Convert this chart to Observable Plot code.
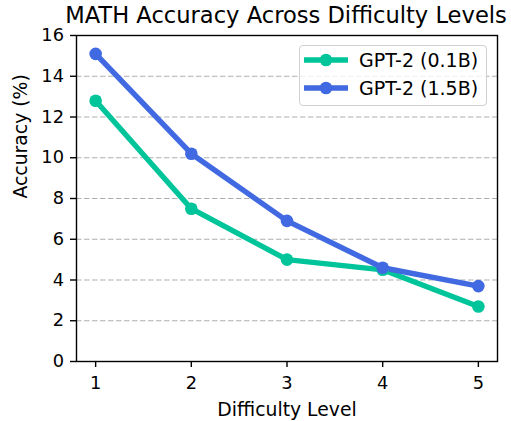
<!DOCTYPE html>
<html>
<head>
<meta charset="utf-8">
<script src="https://cdn.jsdelivr.net/npm/d3@7"></script>
<script src="https://cdn.jsdelivr.net/npm/@observablehq/plot@0.6"></script>
<style>
  body { margin: 0; background: #fff; font-family: "DejaVu Sans", sans-serif; }
  #wrap { position: relative; width: 511px; height: 421px; }
  #title { position: absolute; left: 36px; width: 500px; top: 4px; text-align: center;
           font-size: 22.6px; line-height: 1; color: #000; white-space: nowrap; }
  #legend { position: absolute; left: 299px; top: 45px; width: 188px; height: 61px;
            border: 1px solid #d0d0d0; border-radius: 4px; background: rgba(255,255,255,0.8);
            box-sizing: border-box; }
  .row { position: absolute; left: 4px; height: 24px; display: flex; align-items: center; }
  .row span { font-size: 19px; margin-left: 11px; color: #000; white-space: nowrap; }
</style>
</head>
<body>
<div id="wrap">
  <div id="chart"></div>
  <div id="title"></div>
  <div id="legend"></div>
</div>
<script>
const levels = [1, 2, 3, 4, 5];
const seriesNames = ["GPT-2 (0.1B)", "GPT-2 (1.5B)"];
const small = [12.8, 7.5, 5.0, 4.5, 2.7];
const large = [15.1, 10.2, 6.9, 4.6, 3.7];
const colors = ["#00c49a", "#4169e1"];
const yTicks = [0, 2, 4, 6, 8, 10, 12, 14, 16];
const titleText = "MATH Accuracy Across Difficulty Levels";
const xLabel = "Difficulty Level";
const yLabel = "Accuracy (%)";

const data = [];
[small, large].forEach((vals, s) => {
  vals.forEach((v, i) => data.push({level: levels[i], acc: v, series: seriesNames[s]}));
});

const chart = Plot.plot({
  width: 511,
  height: 421,
  marginLeft: 76,
  marginRight: 14,
  marginTop: 35,
  marginBottom: 60,
  style: {fontFamily: "DejaVu Sans, sans-serif", fontSize: "17.8px", color: "#000", background: "#fff"},
  x: {domain: [0.8, 5.2]},
  y: {domain: [0, 16]},
  color: {domain: seriesNames, range: colors},
  marks: [
    Plot.gridY([2, 4, 6, 8, 10, 12, 14], {stroke: "#b0b0b0", strokeOpacity: 1, strokeWidth: 1.2, strokeDasharray: "5.5,2.5"}),
    Plot.line(data, {x: "level", y: "acc", z: "series", stroke: "series", strokeWidth: 5.4}),
    Plot.dot(data, {x: "level", y: "acc", fill: "series", r: 6.3}),
    Plot.frame({stroke: "#000", strokeWidth: 1.4}),
    Plot.axisX(levels, {label: null, tickSize: 6, tickPadding: 8.5, strokeWidth: 1.4, fontSize: 17.8}),
    Plot.axisY(yTicks, {label: null, tickSize: 6, tickPadding: 6.5, strokeWidth: 1.4, fontSize: 17.8}),
    Plot.text([xLabel], {frameAnchor: "bottom", lineAnchor: "bottom", dy: 54.5, fontSize: 18.8, fill: "#000"}),
    Plot.text([yLabel], {frameAnchor: "left", lineAnchor: "bottom", rotate: -90, dx: -50, fontSize: 18.8, fill: "#000"})
  ]
});
document.getElementById("chart").appendChild(chart);
document.getElementById("title").textContent = titleText;

const legend = document.getElementById("legend");
seriesNames.forEach((name, i) => {
  const row = document.createElement("div");
  row.className = "row";
  row.style.top = (i === 0 ? 2 : 29.7) + "px";
  row.innerHTML = `<svg width="44" height="16"><line x1="0" y1="8" x2="44" y2="8" stroke="${colors[i]}" stroke-width="5.4"/><circle cx="22" cy="8" r="6.3" fill="${colors[i]}"/></svg><span>${name}</span>`;
  legend.appendChild(row);
});
</script>
</body>
</html>
